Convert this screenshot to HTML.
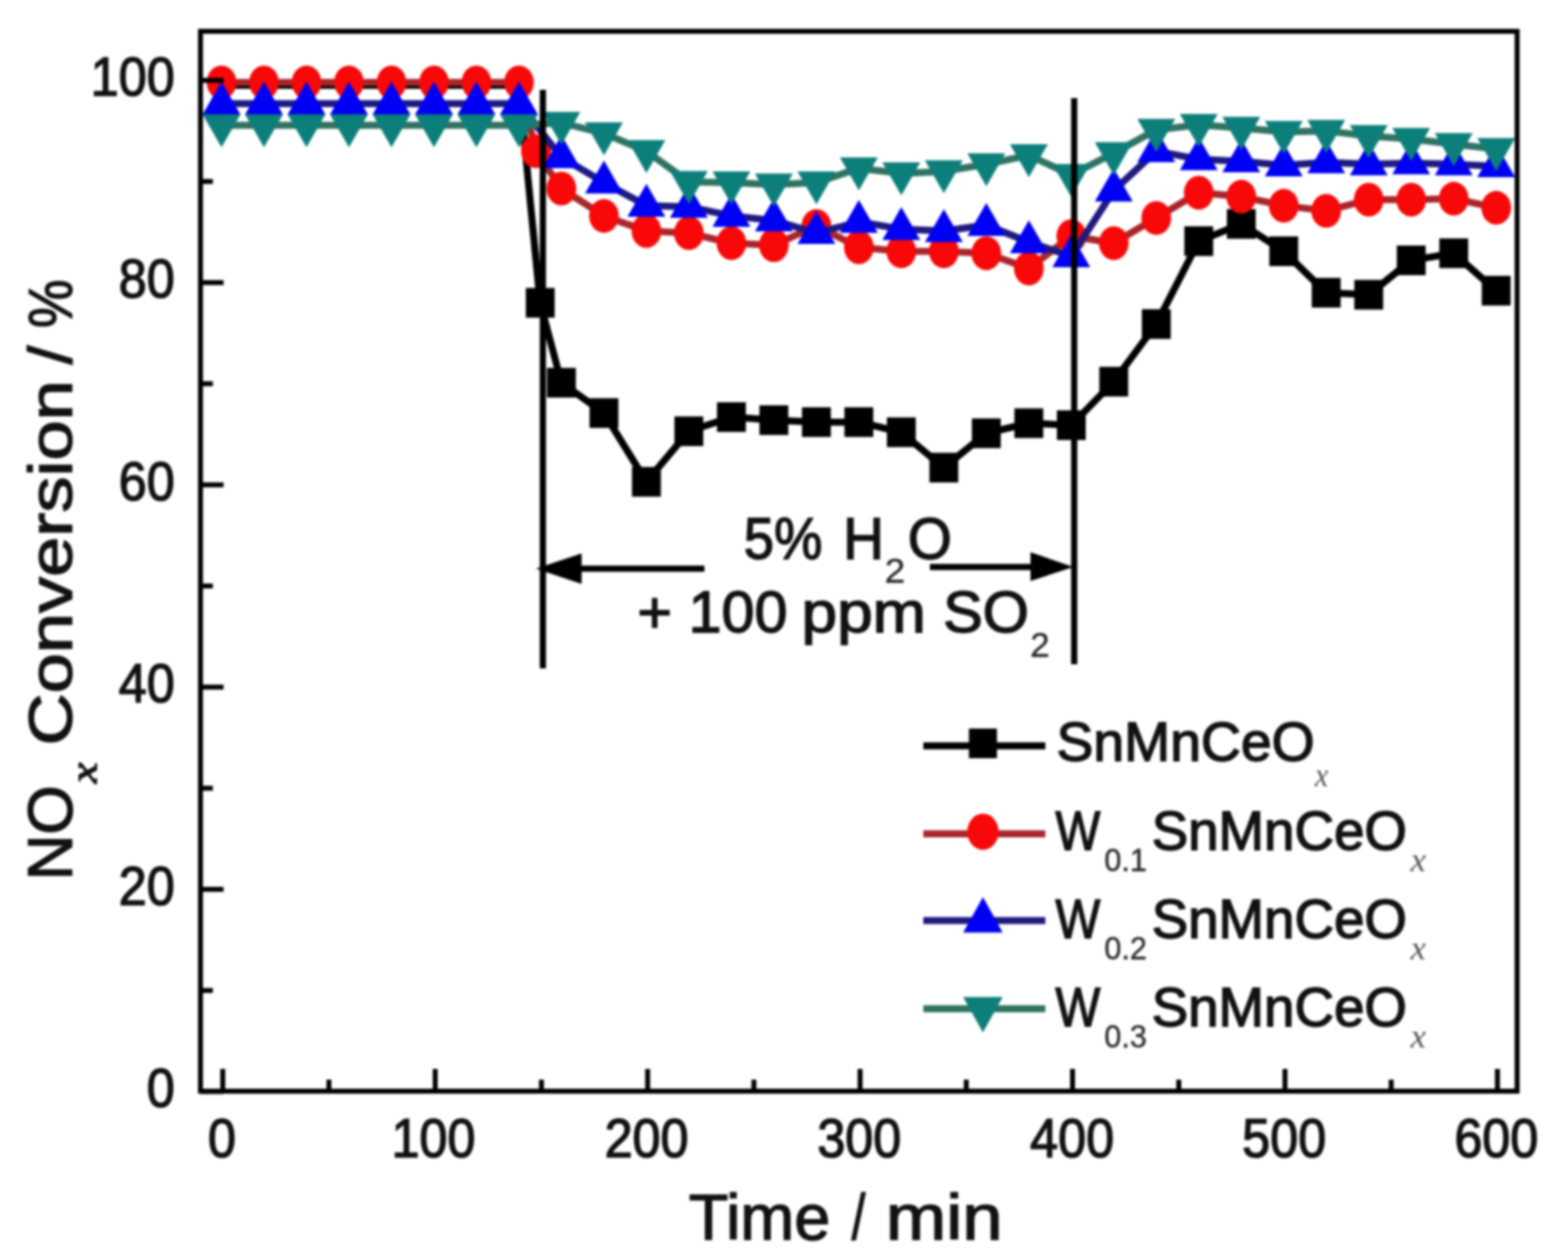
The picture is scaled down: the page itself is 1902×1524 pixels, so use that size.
<!DOCTYPE html><html><head><meta charset="utf-8"><title>NOx conversion vs time</title><style>
html,body{margin:0;padding:0;background:#fff;width:1902px;height:1524px;overflow:hidden}
svg{display:block;font-family:"Liberation Sans",Arial,sans-serif}
svg{filter:blur(1.5px)}
text{stroke:#111;stroke-width:1.6px} text.sub{stroke:#2a2a2a;stroke-width:0.4px;fill:#2a2a2a} text.lx{stroke:none;fill:#555}
</style></head><body>
<svg width="1902" height="1524" viewBox="0 0 1902 1524">
<rect width="1902" height="1524" fill="#fff"/>
<g fill="#111">
<polyline points="268.7,103.6 320.2,103.6 371.8,103.6 423.3,103.6 474.9,103.6 526.4,103.6 577.9,103.6 629.5,103.6 655.2,367.4 681.0,464.4 732.6,501.2 784.1,584.6 835.6,523.3 887.2,506.1 938.7,509.8 990.3,512.2 1041.8,512.2 1093.3,524.5 1144.9,567.4 1196.4,525.7 1248.0,513.5 1299.5,515.9 1351.0,463.1 1402.6,393.2 1454.1,292.6 1505.7,271.7 1557.2,304.9 1608.7,355.2 1660.3,357.6 1711.8,315.9 1763.4,307.3 1814.9,352.7" fill="none" stroke="#000" stroke-width="8.5" stroke-linejoin="round"/>
<rect x="637.8" y="349.4" width="35" height="36" fill="#000"/>
<rect x="663.5" y="446.4" width="35" height="36" fill="#000"/>
<rect x="715.1" y="483.2" width="35" height="36" fill="#000"/>
<rect x="766.6" y="566.6" width="35" height="36" fill="#000"/>
<rect x="818.1" y="505.3" width="35" height="36" fill="#000"/>
<rect x="869.7" y="488.1" width="35" height="36" fill="#000"/>
<rect x="921.2" y="491.8" width="35" height="36" fill="#000"/>
<rect x="972.8" y="494.2" width="35" height="36" fill="#000"/>
<rect x="1024.3" y="494.2" width="35" height="36" fill="#000"/>
<rect x="1075.8" y="506.5" width="35" height="36" fill="#000"/>
<rect x="1127.4" y="549.4" width="35" height="36" fill="#000"/>
<rect x="1178.9" y="507.7" width="35" height="36" fill="#000"/>
<rect x="1230.5" y="495.5" width="35" height="36" fill="#000"/>
<rect x="1282.0" y="497.9" width="35" height="36" fill="#000"/>
<rect x="1333.5" y="445.1" width="35" height="36" fill="#000"/>
<rect x="1385.1" y="375.2" width="35" height="36" fill="#000"/>
<rect x="1436.6" y="274.6" width="35" height="36" fill="#000"/>
<rect x="1488.2" y="253.7" width="35" height="36" fill="#000"/>
<rect x="1539.7" y="286.9" width="35" height="36" fill="#000"/>
<rect x="1591.2" y="337.2" width="35" height="36" fill="#000"/>
<rect x="1642.8" y="339.6" width="35" height="36" fill="#000"/>
<rect x="1694.3" y="297.9" width="35" height="36" fill="#000"/>
<rect x="1745.9" y="289.3" width="35" height="36" fill="#000"/>
<rect x="1797.4" y="334.7" width="35" height="36" fill="#000"/>
<polyline points="268.7,100.0 320.2,100.0 371.8,100.0 423.3,100.0 474.9,100.0 526.4,100.0 577.9,100.0 629.5,100.0 650.1,183.4 681.0,228.8 732.6,261.9 784.1,280.3 835.6,282.8 887.2,295.0 938.7,297.5 990.3,274.2 1041.8,300.0 1093.3,304.9 1144.9,304.9 1196.4,307.3 1248.0,325.7 1299.5,286.5 1351.0,295.0 1402.6,264.4 1454.1,233.7 1505.7,238.6 1557.2,249.6 1608.7,255.8 1660.3,242.3 1711.8,242.3 1763.4,241.1 1814.9,252.1" fill="none" stroke="#a8262a" stroke-width="8.5" stroke-linejoin="round"/>
<ellipse cx="268.7" cy="100.0" rx="18" ry="20.5" fill="#f80808"/>
<ellipse cx="320.2" cy="100.0" rx="18" ry="20.5" fill="#f80808"/>
<ellipse cx="371.8" cy="100.0" rx="18" ry="20.5" fill="#f80808"/>
<ellipse cx="423.3" cy="100.0" rx="18" ry="20.5" fill="#f80808"/>
<ellipse cx="474.9" cy="100.0" rx="18" ry="20.5" fill="#f80808"/>
<ellipse cx="526.4" cy="100.0" rx="18" ry="20.5" fill="#f80808"/>
<ellipse cx="577.9" cy="100.0" rx="18" ry="20.5" fill="#f80808"/>
<ellipse cx="629.5" cy="100.0" rx="18" ry="20.5" fill="#f80808"/>
<ellipse cx="650.1" cy="183.4" rx="18" ry="20.5" fill="#f80808"/>
<ellipse cx="681.0" cy="228.8" rx="18" ry="20.5" fill="#f80808"/>
<ellipse cx="732.6" cy="261.9" rx="18" ry="20.5" fill="#f80808"/>
<ellipse cx="784.1" cy="280.3" rx="18" ry="20.5" fill="#f80808"/>
<ellipse cx="835.6" cy="282.8" rx="18" ry="20.5" fill="#f80808"/>
<ellipse cx="887.2" cy="295.0" rx="18" ry="20.5" fill="#f80808"/>
<ellipse cx="938.7" cy="297.5" rx="18" ry="20.5" fill="#f80808"/>
<ellipse cx="990.3" cy="274.2" rx="18" ry="20.5" fill="#f80808"/>
<ellipse cx="1041.8" cy="300.0" rx="18" ry="20.5" fill="#f80808"/>
<ellipse cx="1093.3" cy="304.9" rx="18" ry="20.5" fill="#f80808"/>
<ellipse cx="1144.9" cy="304.9" rx="18" ry="20.5" fill="#f80808"/>
<ellipse cx="1196.4" cy="307.3" rx="18" ry="20.5" fill="#f80808"/>
<ellipse cx="1248.0" cy="325.7" rx="18" ry="20.5" fill="#f80808"/>
<ellipse cx="1299.5" cy="286.5" rx="18" ry="20.5" fill="#f80808"/>
<ellipse cx="1351.0" cy="295.0" rx="18" ry="20.5" fill="#f80808"/>
<ellipse cx="1402.6" cy="264.4" rx="18" ry="20.5" fill="#f80808"/>
<ellipse cx="1454.1" cy="233.7" rx="18" ry="20.5" fill="#f80808"/>
<ellipse cx="1505.7" cy="238.6" rx="18" ry="20.5" fill="#f80808"/>
<ellipse cx="1557.2" cy="249.6" rx="18" ry="20.5" fill="#f80808"/>
<ellipse cx="1608.7" cy="255.8" rx="18" ry="20.5" fill="#f80808"/>
<ellipse cx="1660.3" cy="242.3" rx="18" ry="20.5" fill="#f80808"/>
<ellipse cx="1711.8" cy="242.3" rx="18" ry="20.5" fill="#f80808"/>
<ellipse cx="1763.4" cy="241.1" rx="18" ry="20.5" fill="#f80808"/>
<ellipse cx="1814.9" cy="252.1" rx="18" ry="20.5" fill="#f80808"/>
<polyline points="268.7,125.7 320.2,125.7 371.8,125.7 423.3,125.7 474.9,125.7 526.4,125.7 577.9,125.7 629.5,125.7 681.0,190.8 732.6,221.4 784.1,249.6 835.6,250.9 887.2,261.9 938.7,267.4 990.3,282.8 1041.8,269.3 1093.3,277.9 1144.9,280.3 1196.4,273.0 1248.0,293.8 1299.5,311.0 1351.0,231.2 1402.6,183.4 1454.1,193.2 1505.7,195.7 1557.2,200.6 1608.7,196.9 1660.3,199.3 1711.8,198.1 1763.4,199.3 1814.9,201.8" fill="none" stroke="#1e1a80" stroke-width="8.5" stroke-linejoin="round"/>
<polygon points="268.7,99.1 291.7,139.1 245.7,139.1" fill="#0000f4"/>
<polygon points="320.2,99.1 343.2,139.1 297.2,139.1" fill="#0000f4"/>
<polygon points="371.8,99.1 394.8,139.1 348.8,139.1" fill="#0000f4"/>
<polygon points="423.3,99.1 446.3,139.1 400.3,139.1" fill="#0000f4"/>
<polygon points="474.9,99.1 497.9,139.1 451.9,139.1" fill="#0000f4"/>
<polygon points="526.4,99.1 549.4,139.1 503.4,139.1" fill="#0000f4"/>
<polygon points="577.9,99.1 600.9,139.1 554.9,139.1" fill="#0000f4"/>
<polygon points="629.5,99.1 652.5,139.1 606.5,139.1" fill="#0000f4"/>
<polygon points="681.0,164.1 704.0,204.1 658.0,204.1" fill="#0000f4"/>
<polygon points="732.6,194.8 755.6,234.8 709.6,234.8" fill="#0000f4"/>
<polygon points="784.1,223.0 807.1,263.0 761.1,263.0" fill="#0000f4"/>
<polygon points="835.6,224.2 858.6,264.2 812.6,264.2" fill="#0000f4"/>
<polygon points="887.2,235.3 910.2,275.3 864.2,275.3" fill="#0000f4"/>
<polygon points="938.7,240.8 961.7,280.8 915.7,280.8" fill="#0000f4"/>
<polygon points="990.3,256.1 1013.3,296.1 967.3,296.1" fill="#0000f4"/>
<polygon points="1041.8,242.6 1064.8,282.6 1018.8,282.6" fill="#0000f4"/>
<polygon points="1093.3,251.2 1116.3,291.2 1070.3,291.2" fill="#0000f4"/>
<polygon points="1144.9,253.7 1167.9,293.7 1121.9,293.7" fill="#0000f4"/>
<polygon points="1196.4,246.3 1219.4,286.3 1173.4,286.3" fill="#0000f4"/>
<polygon points="1248.0,267.2 1271.0,307.2 1225.0,307.2" fill="#0000f4"/>
<polygon points="1299.5,284.3 1322.5,324.3 1276.5,324.3" fill="#0000f4"/>
<polygon points="1351.0,204.6 1374.0,244.6 1328.0,244.6" fill="#0000f4"/>
<polygon points="1402.6,156.7 1425.6,196.7 1379.6,196.7" fill="#0000f4"/>
<polygon points="1454.1,166.5 1477.1,206.5 1431.1,206.5" fill="#0000f4"/>
<polygon points="1505.7,169.0 1528.7,209.0 1482.7,209.0" fill="#0000f4"/>
<polygon points="1557.2,173.9 1580.2,213.9 1534.2,213.9" fill="#0000f4"/>
<polygon points="1608.7,170.2 1631.7,210.2 1585.7,210.2" fill="#0000f4"/>
<polygon points="1660.3,172.7 1683.3,212.7 1637.3,212.7" fill="#0000f4"/>
<polygon points="1711.8,171.4 1734.8,211.4 1688.8,211.4" fill="#0000f4"/>
<polygon points="1763.4,172.7 1786.4,212.7 1740.4,212.7" fill="#0000f4"/>
<polygon points="1814.9,175.1 1837.9,215.1 1791.9,215.1" fill="#0000f4"/>
<polyline points="268.7,152.1 320.2,152.1 371.8,152.1 423.3,152.1 474.9,152.1 526.4,152.1 577.9,152.1 629.5,152.1 681.0,149.0 732.6,161.9 784.1,183.4 835.6,220.8 887.2,221.4 938.7,223.9 990.3,221.4 1041.8,204.2 1093.3,210.4 1144.9,207.9 1196.4,199.3 1248.0,188.3 1299.5,212.3 1351.0,185.8 1402.6,157.6 1454.1,151.5 1505.7,155.2 1557.2,160.1 1608.7,158.9 1660.3,165.0 1711.8,168.7 1763.4,174.8 1814.9,180.9" fill="none" stroke="#307262" stroke-width="8.5" stroke-linejoin="round"/>
<polygon points="245.7,138.8 291.7,138.8 268.7,178.8" fill="#0d7f7a"/>
<polygon points="297.2,138.8 343.2,138.8 320.2,178.8" fill="#0d7f7a"/>
<polygon points="348.8,138.8 394.8,138.8 371.8,178.8" fill="#0d7f7a"/>
<polygon points="400.3,138.8 446.3,138.8 423.3,178.8" fill="#0d7f7a"/>
<polygon points="451.9,138.8 497.9,138.8 474.9,178.8" fill="#0d7f7a"/>
<polygon points="503.4,138.8 549.4,138.8 526.4,178.8" fill="#0d7f7a"/>
<polygon points="554.9,138.8 600.9,138.8 577.9,178.8" fill="#0d7f7a"/>
<polygon points="606.5,138.8 652.5,138.8 629.5,178.8" fill="#0d7f7a"/>
<polygon points="658.0,135.7 704.0,135.7 681.0,175.7" fill="#0d7f7a"/>
<polygon points="709.6,148.6 755.6,148.6 732.6,188.6" fill="#0d7f7a"/>
<polygon points="761.1,170.1 807.1,170.1 784.1,210.1" fill="#0d7f7a"/>
<polygon points="812.6,207.5 858.6,207.5 835.6,247.5" fill="#0d7f7a"/>
<polygon points="864.2,208.1 910.2,208.1 887.2,248.1" fill="#0d7f7a"/>
<polygon points="915.7,210.5 961.7,210.5 938.7,250.5" fill="#0d7f7a"/>
<polygon points="967.3,208.1 1013.3,208.1 990.3,248.1" fill="#0d7f7a"/>
<polygon points="1018.8,190.9 1064.8,190.9 1041.8,230.9" fill="#0d7f7a"/>
<polygon points="1070.3,197.1 1116.3,197.1 1093.3,237.1" fill="#0d7f7a"/>
<polygon points="1121.9,194.6 1167.9,194.6 1144.9,234.6" fill="#0d7f7a"/>
<polygon points="1173.4,186.0 1219.4,186.0 1196.4,226.0" fill="#0d7f7a"/>
<polygon points="1225.0,175.0 1271.0,175.0 1248.0,215.0" fill="#0d7f7a"/>
<polygon points="1276.5,199.0 1322.5,199.0 1299.5,239.0" fill="#0d7f7a"/>
<polygon points="1328.0,172.5 1374.0,172.5 1351.0,212.5" fill="#0d7f7a"/>
<polygon points="1379.6,144.3 1425.6,144.3 1402.6,184.3" fill="#0d7f7a"/>
<polygon points="1431.1,138.2 1477.1,138.2 1454.1,178.2" fill="#0d7f7a"/>
<polygon points="1482.7,141.8 1528.7,141.8 1505.7,181.8" fill="#0d7f7a"/>
<polygon points="1534.2,146.7 1580.2,146.7 1557.2,186.7" fill="#0d7f7a"/>
<polygon points="1585.7,145.5 1631.7,145.5 1608.7,185.5" fill="#0d7f7a"/>
<polygon points="1637.3,151.7 1683.3,151.7 1660.3,191.7" fill="#0d7f7a"/>
<polygon points="1688.8,155.3 1734.8,155.3 1711.8,195.3" fill="#0d7f7a"/>
<polygon points="1740.4,161.5 1786.4,161.5 1763.4,201.5" fill="#0d7f7a"/>
<polygon points="1791.9,167.6 1837.9,167.6 1814.9,207.6" fill="#0d7f7a"/>
<rect x="243.2" y="38.0" width="1597.1" height="1286.0" fill="none" stroke="#000" stroke-width="6"/>
<line x1="270.2" y1="1324.0" x2="270.2" y2="1297.0" stroke="#000" stroke-width="6"/>
<line x1="399.0" y1="1324.0" x2="399.0" y2="1310.0" stroke="#000" stroke-width="6"/>
<line x1="527.9" y1="1324.0" x2="527.9" y2="1297.0" stroke="#000" stroke-width="6"/>
<line x1="656.8" y1="1324.0" x2="656.8" y2="1310.0" stroke="#000" stroke-width="6"/>
<line x1="785.6" y1="1324.0" x2="785.6" y2="1297.0" stroke="#000" stroke-width="6"/>
<line x1="914.5" y1="1324.0" x2="914.5" y2="1310.0" stroke="#000" stroke-width="6"/>
<line x1="1043.3" y1="1324.0" x2="1043.3" y2="1297.0" stroke="#000" stroke-width="6"/>
<line x1="1172.1" y1="1324.0" x2="1172.1" y2="1310.0" stroke="#000" stroke-width="6"/>
<line x1="1301.0" y1="1324.0" x2="1301.0" y2="1297.0" stroke="#000" stroke-width="6"/>
<line x1="1429.9" y1="1324.0" x2="1429.9" y2="1310.0" stroke="#000" stroke-width="6"/>
<line x1="1558.7" y1="1324.0" x2="1558.7" y2="1297.0" stroke="#000" stroke-width="6"/>
<line x1="1687.5" y1="1324.0" x2="1687.5" y2="1310.0" stroke="#000" stroke-width="6"/>
<line x1="1816.4" y1="1324.0" x2="1816.4" y2="1297.0" stroke="#000" stroke-width="6"/>
<line x1="243.2" y1="1324.5" x2="271.2" y2="1324.5" stroke="#000" stroke-width="6"/>
<line x1="243.2" y1="1201.8" x2="258.2" y2="1201.8" stroke="#000" stroke-width="6"/>
<line x1="243.2" y1="1079.1" x2="271.2" y2="1079.1" stroke="#000" stroke-width="6"/>
<line x1="243.2" y1="956.4" x2="258.2" y2="956.4" stroke="#000" stroke-width="6"/>
<line x1="243.2" y1="833.7" x2="271.2" y2="833.7" stroke="#000" stroke-width="6"/>
<line x1="243.2" y1="711.0" x2="258.2" y2="711.0" stroke="#000" stroke-width="6"/>
<line x1="243.2" y1="588.3" x2="271.2" y2="588.3" stroke="#000" stroke-width="6"/>
<line x1="243.2" y1="465.6" x2="258.2" y2="465.6" stroke="#000" stroke-width="6"/>
<line x1="243.2" y1="342.9" x2="271.2" y2="342.9" stroke="#000" stroke-width="6"/>
<line x1="243.2" y1="220.2" x2="258.2" y2="220.2" stroke="#000" stroke-width="6"/>
<line x1="243.2" y1="97.5" x2="271.2" y2="97.5" stroke="#000" stroke-width="6"/>
<text transform="translate(252.2,1404.0) scale(1.0000,1.08)" font-size="61">0</text>
<text transform="translate(474.9,1404.0) scale(1.0000,1.08)" font-size="61">100</text>
<text transform="translate(733.4,1404.0) scale(1.0000,1.08)" font-size="61">200</text>
<text transform="translate(991.4,1404.0) scale(1.0000,1.08)" font-size="61">300</text>
<text transform="translate(1249.6,1404.0) scale(1.0000,1.08)" font-size="61">400</text>
<text transform="translate(1506.8,1404.0) scale(1.0000,1.08)" font-size="61">500</text>
<text transform="translate(1764.2,1404.0) scale(1.0000,1.08)" font-size="61">600</text>
<text transform="translate(178.0,1343.0) scale(1.0000,1.08)" font-size="61">0</text>
<text transform="translate(144.0,1097.6) scale(1.0000,1.08)" font-size="61">20</text>
<text transform="translate(144.0,852.2) scale(1.0000,1.08)" font-size="61">40</text>
<text transform="translate(144.0,606.8) scale(1.0000,1.08)" font-size="61">60</text>
<text transform="translate(144.0,361.4) scale(1.0000,1.08)" font-size="61">80</text>
<text transform="translate(110.1,116.0) scale(1.0000,1.08)" font-size="61">100</text>
<text transform="translate(835.6,1503.5) scale(1.0467,1.03)" font-size="75">Time</text>
<text transform="translate(1033.0,1503.5) scale(0.8014,1.03)" font-size="75">/</text>
<text transform="translate(1074.6,1503.5) scale(1.1721,1.03)" font-size="75">min</text>
<text transform="translate(87.2,1062.0) rotate(-90) scale(1.0132,1) translate(-6.23,0)" font-size="76">NO</text>
<text transform="translate(117.3,951.0) rotate(-90) scale(1.2208,1) translate(0.56,0)" font-size="46" font-style="italic" font-family="Liberation Serif,serif">x</text>
<text transform="translate(87.2,900.0) rotate(-90) scale(1.1839,1) translate(-3.76,0)" font-size="74">Conversion</text>
<text transform="translate(87.2,442.3) rotate(-90) scale(1.1138,1) translate(-0.00,0)" font-size="74">/</text>
<text transform="translate(87.2,395.6) rotate(-90) scale(0.8955,1) translate(-2.64,0)" font-size="74">%</text>
<line x1="658.5" y1="109" x2="658.5" y2="811" stroke="#000" stroke-width="7.5"/>
<line x1="1303" y1="119" x2="1303" y2="806" stroke="#000" stroke-width="7.5"/>
<line x1="700" y1="690" x2="854.5" y2="690" stroke="#000" stroke-width="7.5"/>
<line x1="1128" y1="688" x2="1252" y2="688" stroke="#000" stroke-width="7.5"/>
<polygon points="650,690 705.5,671.5 705.5,708.5" fill="#000"/>
<polygon points="1302,688 1250,670 1250,705" fill="#000"/>
<text transform="translate(902.3,678.2) scale(1.0279,1.1)" font-size="64">5%</text>
<text transform="translate(1022.8,678.2) scale(1.0713,1.1)" font-size="64">H</text>
<text transform="translate(1073.0,707.0) scale(1.1900,1.1)" font-size="38" class="sub">2</text>
<text transform="translate(1101.2,678.2) scale(1.0712,1.1)" font-size="64">O</text>
<text transform="translate(773.2,766.5) scale(1.1192,1.1)" font-size="64">+</text>
<text transform="translate(835.3,766.5) scale(1.1217,1.1)" font-size="64">100</text>
<text transform="translate(972.3,766.5) scale(1.2113,1.1)" font-size="64">ppm</text>
<text transform="translate(1144.0,766.5) scale(1.1272,1.1)" font-size="64">SO</text>
<text transform="translate(1249.6,796.5) scale(1.1264,1.1)" font-size="38" class="sub">2</text>
<line x1="1120" y1="905" x2="1268" y2="905" stroke="#000" stroke-width="8.5"/>
<rect x="1175.3" y="884.0" width="34" height="36" fill="#000"/>
<text transform="translate(1281.5,922.8) scale(1.1183,1.1)" font-size="60">SnMnCeO</text>
<text transform="translate(1594.9,953.8) scale(1.0214,1.1)" font-size="36" font-style="italic" font-family="Liberation Serif,serif" class="lx">x</text>
<line x1="1120" y1="1011.7" x2="1268" y2="1011.7" stroke="#a8262a" stroke-width="8.5"/>
<ellipse cx="1192.3" cy="1009.2" rx="19" ry="22" fill="#f80808"/>
<text transform="translate(1280.2,1031.4) scale(0.9615,1.1)" font-size="60">W</text>
<text transform="translate(1339.5,1057.4) scale(1.0345,1.1)" font-size="36" class="sub">0.1</text>
<text transform="translate(1397.0,1031.4) scale(1.1056,1.1)" font-size="60">SnMnCeO</text>
<text transform="translate(1711.0,1057.4) scale(1.1762,1.1)" font-size="36" font-style="italic" font-family="Liberation Serif,serif" class="lx">x</text>
<line x1="1120" y1="1117.1" x2="1268" y2="1117.1" stroke="#1e1a80" stroke-width="8.5"/>
<polygon points="1192.3,1088.4 1216.3,1131.4 1168.3,1131.4" fill="#0000f4"/>
<text transform="translate(1280.2,1138.3) scale(0.9615,1.1)" font-size="60">W</text>
<text transform="translate(1339.5,1164.3) scale(1.0357,1.1)" font-size="36" class="sub">0.2</text>
<text transform="translate(1397.0,1138.3) scale(1.1056,1.1)" font-size="60">SnMnCeO</text>
<text transform="translate(1711.0,1164.3) scale(1.1762,1.1)" font-size="36" font-style="italic" font-family="Liberation Serif,serif" class="lx">x</text>
<line x1="1120" y1="1224" x2="1268" y2="1224" stroke="#307262" stroke-width="8.5"/>
<polygon points="1168.3,1209.7 1216.3,1209.7 1192.3,1252.7" fill="#0d7f7a"/>
<text transform="translate(1280.2,1244.8) scale(0.9615,1.1)" font-size="60">W</text>
<text transform="translate(1339.6,1270.8) scale(1.0307,1.1)" font-size="36" class="sub">0.3</text>
<text transform="translate(1397.0,1244.8) scale(1.1056,1.1)" font-size="60">SnMnCeO</text>
<text transform="translate(1711.0,1270.8) scale(1.1762,1.1)" font-size="36" font-style="italic" font-family="Liberation Serif,serif" class="lx">x</text>
</g>
</svg></body></html>
